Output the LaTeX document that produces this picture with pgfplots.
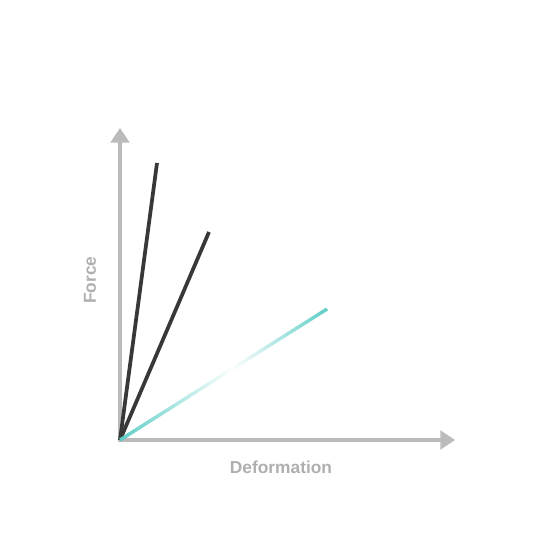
\documentclass[border=0pt]{standalone}
\usepackage{pgfplots}
\pgfplotsset{compat=1.18}
\usepackage{fontspec}
\setmainfont{Liberation Sans}
\usetikzlibrary{arrows.meta,fadings}

\definecolor{axisgray}{HTML}{BBBBBB}
\definecolor{labelgray}{HTML}{AFAFAF}
\definecolor{darkline}{HTML}{383838}
\definecolor{tealline}{HTML}{5ECDC6}

\tikzfading[name=fadeout, left color=transparent!0, right color=transparent!100]
\tikzfading[name=fadein, left color=transparent!100, right color=transparent!0]

\begin{document}
\begin{tikzpicture}
\begin{axis}[
  scale only axis,
  width=401.25pt, height=401.25pt,
  xmin=0, xmax=535, ymin=0, ymax=535,
  hide axis,
  clip=false,
]
% page frame, pixel units (y measured from bottom)
\path (axis cs:0,0) (axis cs:535,535);

% axes
\addplot[axisgray, line width=2.4pt, -{Triangle[width=14pt,length=11pt]}] coordinates {(118,95) (455,95)};
\addplot[axisgray, line width=2.4pt, -{Triangle[width=14pt,length=11pt]}] coordinates {(120,93) (120,407)};

% stiff members
\addplot[darkline, line width=2.8pt] coordinates {(120,95) (157,372)};
\addplot[darkline, line width=2.8pt] coordinates {(120,95) (209,303)};

% soft member, fading out in the middle
\addplot[tealline, line width=2.6pt, path fading=fadeout] coordinates {(120,95) (232,166)};
\addplot[tealline, line width=2.6pt, path fading=fadein] coordinates {(232,166) (327,226)};

\node[text=labelgray, font=\fontsize{13pt}{15pt}\selectfont\bfseries] at (axis cs:281,68) {Deformation};
\node[text=labelgray, font=\fontsize{13pt}{15pt}\selectfont\bfseries, rotate=90] at (axis cs:90,255) {Force};
\end{axis}
\end{tikzpicture}
\end{document}
